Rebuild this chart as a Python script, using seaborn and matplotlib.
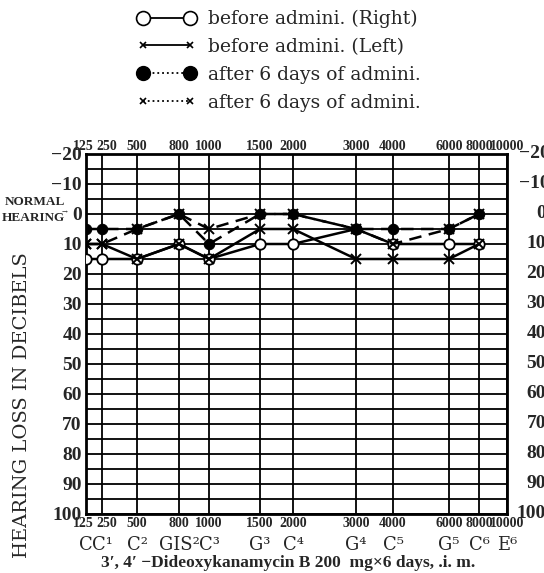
import numpy as np
import pandas as pd
import matplotlib
matplotlib.use("Agg")
import matplotlib.pyplot as plt
import matplotlib.transforms as mtransforms
from matplotlib.lines import Line2D
from matplotlib.ticker import FixedLocator, NullLocator
import seaborn as sns

# ---- audiogram readings (hearing loss in dB) ----
freqs = [125, 250, 500, 800, 1000, 1500, 2000, 3000, 4000, 6000, 8000]
before_right = [15, 15, 15, 10, 15, 10, 10, 5, 10, 10, 10]
before_left = [10, 10, 15, 10, 15, 5, 5, 15, 15, 15, 10]
after_right = [5, 5, 5, 0, 10, 0, 0, 5, 5, 5, 0]
after_left = [10, 10, 5, 0, 5, 0, 0, 5, 10, 5, 0]

series_names = ["before admini. (Right)", "before admini. (Left)",
                "after 6 days of admini. (Right)", "after 6 days of admini. (Left)"]
legend_labels = ["before admini. (Right)", "before admini. (Left)",
                 "after 6 days of admini.", "after 6 days of admini."]

# ---- axis labelling ----
freq_ticks = [125, 250, 500, 800, 1000, 1500, 2000, 3000, 4000, 6000, 8000, 10000]
note_labels = ["C", "C¹", "C²", "GIS²", "C³", "G³", "C⁴", "G⁴", "C⁵", "G⁵", "C⁶", "E⁶"]
db_ticks = list(range(-20, 101, 10))
db_minor = list(range(-15, 100, 10))
caption = "3′, 4′ −Dideoxykanamycin B 200  mg×6 days, .i. m."

# column spacing of the audiometer chart sheet (relative units)
col_spacing = [0, 16, 51, 93, 123, 174, 207, 270, 307, 363, 393, 421]

df = pd.DataFrame({
    "freq": freqs * 4,
    "db": before_right + before_left + after_right + after_left,
    "series": sum([[s] * len(freqs) for s in series_names], []),
})

logf = np.log(freq_ticks)


def fwd(v):
    v = np.asarray(v, dtype=float)
    return np.interp(np.log(np.maximum(v, 1.0)), logf, col_spacing)


def inv(u):
    u = np.asarray(u, dtype=float)
    return np.exp(np.interp(u, col_spacing, logf))


sns.set_style("white")
plt.rcParams["font.family"] = ["DejaVu Serif"]

W, H = 544, 573
fig = plt.figure(figsize=(W / 100, H / 100), dpi=100)
ax = fig.add_axes([86 / W, 1 - 514 / H, (507 - 86) / W, (514 - 154) / H])

styles = {
    series_names[0]: dict(linestyle="-", marker="o", markerfacecolor="white",
                          markeredgecolor="black", markersize=7.5, markeredgewidth=1.3),
    series_names[1]: dict(linestyle="-", marker="x", markersize=6.5,
                          markeredgewidth=1.4, markeredgecolor="black"),
    series_names[2]: dict(linestyle=(0, (5, 3)), marker="o", markerfacecolor="black",
                          markeredgecolor="black", markersize=7.5),
    series_names[3]: dict(linestyle=(0, (5, 3)), marker="x", markersize=6.5,
                          markeredgewidth=1.4, markeredgecolor="black"),
}

for name in series_names:
    sub = df[df["series"] == name]
    sns.lineplot(data=sub, x="freq", y="db", ax=ax, color="black",
                 linewidth=1.8, errorbar=None, legend=False, zorder=3,
                 **styles[name])

ax.set_xscale("function", functions=(fwd, inv))
ax.set_xlim(125, 10000)
ax.set_ylim(100, -20)

ax.xaxis.set_major_locator(FixedLocator(freq_ticks))
ax.xaxis.set_minor_locator(NullLocator())
ax.set_xticklabels([str(f) for f in freq_ticks])
ax.yaxis.set_major_locator(FixedLocator(db_ticks))
ax.yaxis.set_minor_locator(FixedLocator(db_minor))
ax.set_yticklabels([("−" + str(-d)) if d < 0 else str(d) for d in db_ticks])

ax.grid(True, which="both", axis="both", color="black", linewidth=1.3)
ax.set_axisbelow(True)
for sp in ax.spines.values():
    sp.set_linewidth(2.0)
    sp.set_color("black")

num_font = dict(family=["Liberation Serif", "DejaVu Serif"], weight="bold")
ax.tick_params(axis="x", which="both", length=0, labeltop=True, labelbottom=True,
               pad=2, labelsize=10)
ax.tick_params(axis="x", which="both", labeltop=True, pad=0.5)
ax.tick_params(axis="y", which="both", length=0, labelleft=True, pad=3, labelsize=14)
for lab in ax.get_xticklabels() + ax.get_yticklabels():
    lab.set_fontfamily(num_font["family"])
    lab.set_fontweight("bold")

# nudge the crowded 125 / 250 labels apart
nudge = {0: -3, 1: 5}
for i, t in enumerate(ax.xaxis.get_major_ticks()):
    if i in nudge:
        off = mtransforms.ScaledTranslation(nudge[i] / 100, 0, fig.dpi_scale_trans)
        t.label1.set_transform(t.label1.get_transform() + off)
        t.label2.set_transform(t.label2.get_transform() + off)
# bottom labels sit a little further from the frame than the top ones
for t in ax.xaxis.get_major_ticks():
    t.label1.set_transform(t.label1.get_transform()
                           + mtransforms.ScaledTranslation(0, -2 / 100, fig.dpi_scale_trans))
ax.set_xlabel("")
ax.set_ylabel("")

# right-hand scale
for d in db_ticks:
    yfig = 1 - (154 + (d + 20) * 3) / H
    if d < 0:
        fig.text(519 / W, yfig, "−" + str(-d), ha="left", va="center",
                 fontsize=14, **num_font)
    else:
        fig.text(546 / W, yfig, str(d), ha="right", va="center",
                 fontsize=14, **num_font)

# normal hearing marker
fig.text(5 / W, 1 - 202 / H, "NORMAL", ha="left", va="center", fontsize=9.5, **num_font)
fig.text(2 / W, 1 - 218 / H, "HEARING", ha="left", va="center", fontsize=9.5, **num_font)
fig.text(62 / W, 1 - 213 / H, "→", ha="left", va="center", fontsize=5)

# y axis title
fig.text(22 / W, 1 - 405 / H, "HEARING LOSS IN DECIBELS", rotation=90,
         ha="center", va="center", fontsize=14, family="DejaVu Serif")

# musical note names under the frequency columns
trans = mtransforms.blended_transform_factory(ax.transData, fig.transFigure)
for f, n in zip(freq_ticks, note_labels):
    ax.text(f, 1 - 545 / H, n, transform=trans, ha="center", va="center",
            fontsize=13, family=["DejaVu Serif"], clip_on=False)

fig.text(288 / W, 1 - 563 / H, caption, ha="center", va="center",
         fontsize=12.5, **num_font)

# legend
handles = [
    Line2D([], [], color="black", lw=1.3, ls="-", marker="o", mfc="white",
           mec="black", ms=10, mew=1.2),
    Line2D([], [], color="black", lw=1.3, ls="-", marker="x", ms=5, mew=1.2),
    Line2D([], [], color="black", lw=1.3, ls=":", marker="o", mfc="black",
           mec="black", ms=10),
    Line2D([], [], color="black", lw=1.3, ls=":", marker="x", ms=5, mew=1.2),
]
fig.legend(handles, legend_labels,
           loc="upper left", bbox_to_anchor=(137 / W, 1 - 10 / H),
           frameon=False, numpoints=2, handlelength=3.1, handletextpad=0.7,
           borderpad=0, borderaxespad=0, labelspacing=0.52,
           prop=dict(family="DejaVu Serif", size=13.5))

fig.savefig("out.png", dpi=100)
